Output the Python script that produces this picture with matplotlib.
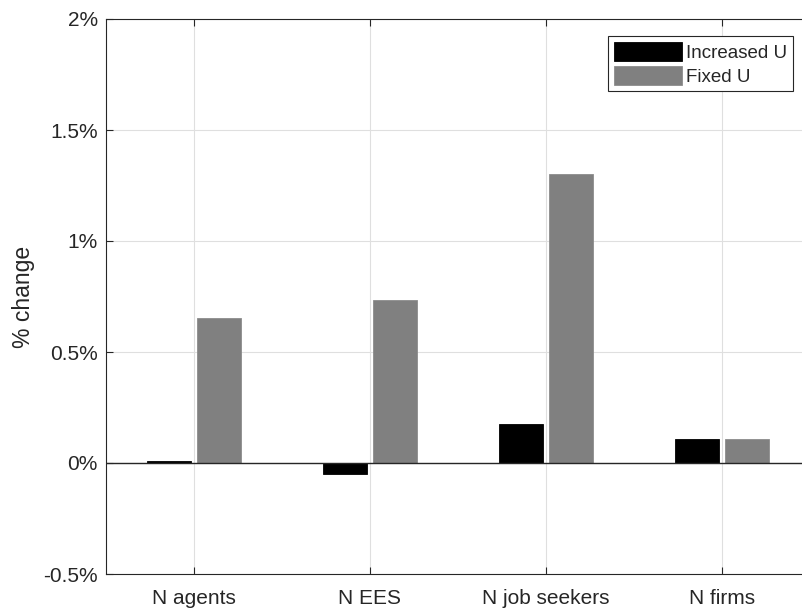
import numpy as np
import matplotlib
matplotlib.use("Agg")
import matplotlib.pyplot as plt

plt.rcParams['font.family'] = ['Liberation Sans', 'DejaVu Sans']

# data (% change)
categories = ['N agents', 'N EES', 'N job seekers', 'N firms']
increased_u = [0.01, -0.048, 0.176, 0.109]
fixed_u = [0.653, 0.736, 1.302, 0.109]
series_names = ['Increased U', 'Fixed U']
ytick_vals = [-0.5, 0, 0.5, 1, 1.5, 2]
ytick_labels = ['-0.5%', '0%', '0.5%', '1%', '1.5%', '2%']

axcol = '#262626'
fig = plt.figure(figsize=(8.03, 6.12), dpi=100)
# the axes run a little past the right edge of the picture, like the original crop
ax = fig.add_axes([106 / 803, 1 - 574 / 612, 704 / 803, 555 / 612])

x = np.arange(1, len(categories) + 1)
w = 0.25
off = 0.142
ax.bar(x - off, increased_u, w, color='black', edgecolor='black', linewidth=0.6,
       label=series_names[0], zorder=3)
ax.bar(x + off, fixed_u, w, color='#808080', edgecolor='#8c8c8c', linewidth=0.6,
       label=series_names[1], zorder=3)
ax.axhline(0, color=axcol, lw=1.0, zorder=4)

ax.set_xlim(0.5, 4.5)
ax.set_ylim(-0.5, 2)
ax.set_xticks(x)
ax.set_xticklabels(categories)
ax.set_yticks(ytick_vals)
ax.set_yticklabels(ytick_labels)
ax.set_ylabel('% change', fontsize=16.5, color=axcol, labelpad=6)

ax.grid(True, color='#dfdfdf', lw=0.8, zorder=0)
ax.set_axisbelow(True)
for s in ax.spines.values():
    s.set_color(axcol)
    s.set_linewidth(0.8)
ax.tick_params(direction='in', length=5, width=0.8, color=axcol, labelcolor=axcol,
               labelsize=15, top=True, right=True)
ax.tick_params(axis='y', pad=6)
ax.tick_params(axis='x', pad=11)

leg = ax.legend(loc='upper right', bbox_to_anchor=(793 / 803, 1 - 36 / 612),
                bbox_transform=fig.transFigure, fontsize=13.5, fancybox=False,
                framealpha=1, edgecolor=axcol, handlelength=3.6, handleheight=1.25,
                handletextpad=0.25, borderpad=0.3, labelspacing=0.2, borderaxespad=0)
leg.get_frame().set_linewidth(0.8)
for t in leg.get_texts():
    t.set_color(axcol)

fig.savefig('out.png', dpi=100)
